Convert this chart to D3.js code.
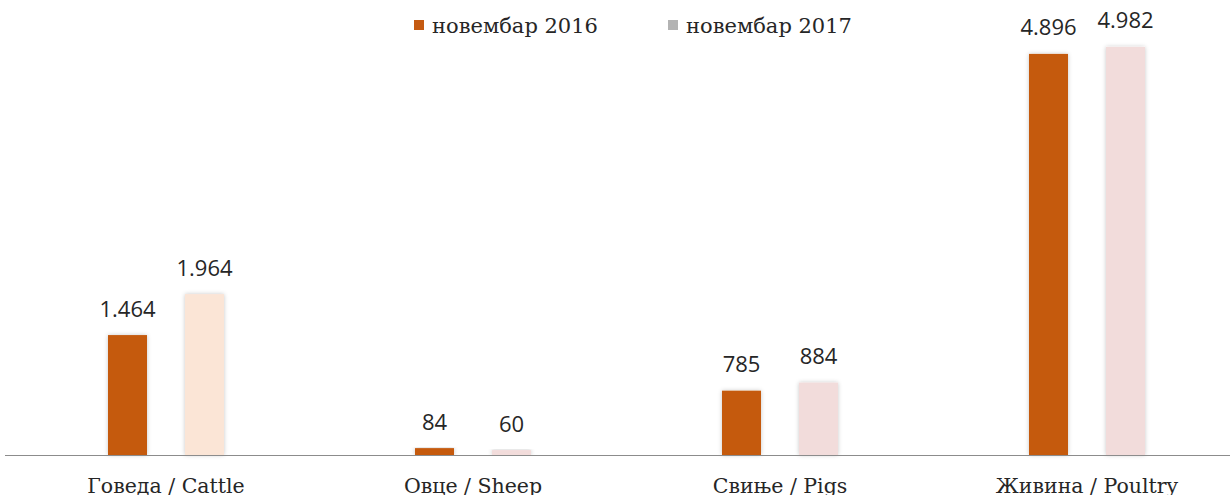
<!DOCTYPE html>
<html><head><meta charset="utf-8">
<script src="https://cdn.jsdelivr.net/npm/d3@7"></script>
<style>body{margin:0;background:#fff}svg{display:block}</style>
</head><body>
<svg id="c" width="1230" height="495"></svg>
<script>
const categories = ["Говеда / Cattle", "Овце / Sheep", "Свиње / Pigs", "Живина / Poultry"];
const seriesNames = ["новембар 2016", "новембар 2017"];
const values2016 = [1464, 84, 785, 4896];
const values2017 = [1964, 60, 884, 4982];
const colors2017 = ["#fbe5d6", "#f2dcdb", "#f2dcdb", "#f2dcdb"];

const svg = d3.select("#c");
const baseY = 455;
const x = d3.scaleBand().domain(categories).range([12.5, 1240.5]).padding(0);
const y = d3.scaleLinear().domain([0, 5000]).range([baseY, baseY - 409.6]);
const fmt = v => d3.format(",")(v).replace(/,/g, ".");

const defs = svg.append("defs");
const f = defs.append("filter").attr("id", "sh").attr("x", "-30%").attr("y", "-10%").attr("width", "160%").attr("height", "120%");
f.append("feDropShadow").attr("dx", 0).attr("dy", 0).attr("stdDeviation", 2).attr("flood-color", "#000").attr("flood-opacity", 0.22);

const bw = 39, off = 38.5;
const data = [];
categories.forEach((c, i) => {
  data.push({c, v: values2016[i], dx: -off, col: "#c55a11"});
  data.push({c, v: values2017[i], dx: off, col: colors2017[i]});
});

svg.append("g").selectAll("rect").data(data).join("rect")
  .attr("x", d => x(d.c) + x.bandwidth() / 2 + d.dx - bw / 2)
  .attr("y", d => y(d.v))
  .attr("width", bw)
  .attr("height", d => baseY - y(d.v))
  .attr("fill", d => d.col)
  .attr("filter", "url(#sh)");

svg.append("line").attr("x1", 5).attr("x2", 1230).attr("y1", baseY + 0.5).attr("y2", baseY + 0.5)
  .attr("stroke", "#8c8c8c").attr("stroke-width", 1);

svg.append("g").selectAll("text").data(data).join("text")
  .attr("x", d => x(d.c) + x.bandwidth() / 2 + d.dx)
  .attr("y", d => y(d.v) - 18.5)
  .attr("text-anchor", "middle")
  .attr("font-family", "Open Sans, sans-serif")
  .attr("font-size", 22)
  .attr("fill", "#262626")
  .text(d => fmt(d.v));

svg.append("g").selectAll("text").data(categories).join("text")
  .attr("x", d => x(d) + x.bandwidth() / 2)
  .attr("y", 493)
  .attr("text-anchor", "middle")
  .attr("font-family", "DejaVu Serif, serif")
  .attr("font-size", 20.5)
  .attr("fill", "#262626")
  .text(d => d);

const leg = svg.append("g");
const legX = [414, 668];
const legCols = ["#c55a11", "#b3b3b3"];
seriesNames.forEach((s, i) => {
  leg.append("rect").attr("x", legX[i]).attr("y", 20).attr("width", 10).attr("height", 10).attr("fill", legCols[i]);
  leg.append("text").attr("x", legX[i] + 18).attr("y", 33)
    .attr("font-family", "DejaVu Serif, serif").attr("font-size", 21).attr("fill", "#262626").text(s);
});
</script>
</body></html>
